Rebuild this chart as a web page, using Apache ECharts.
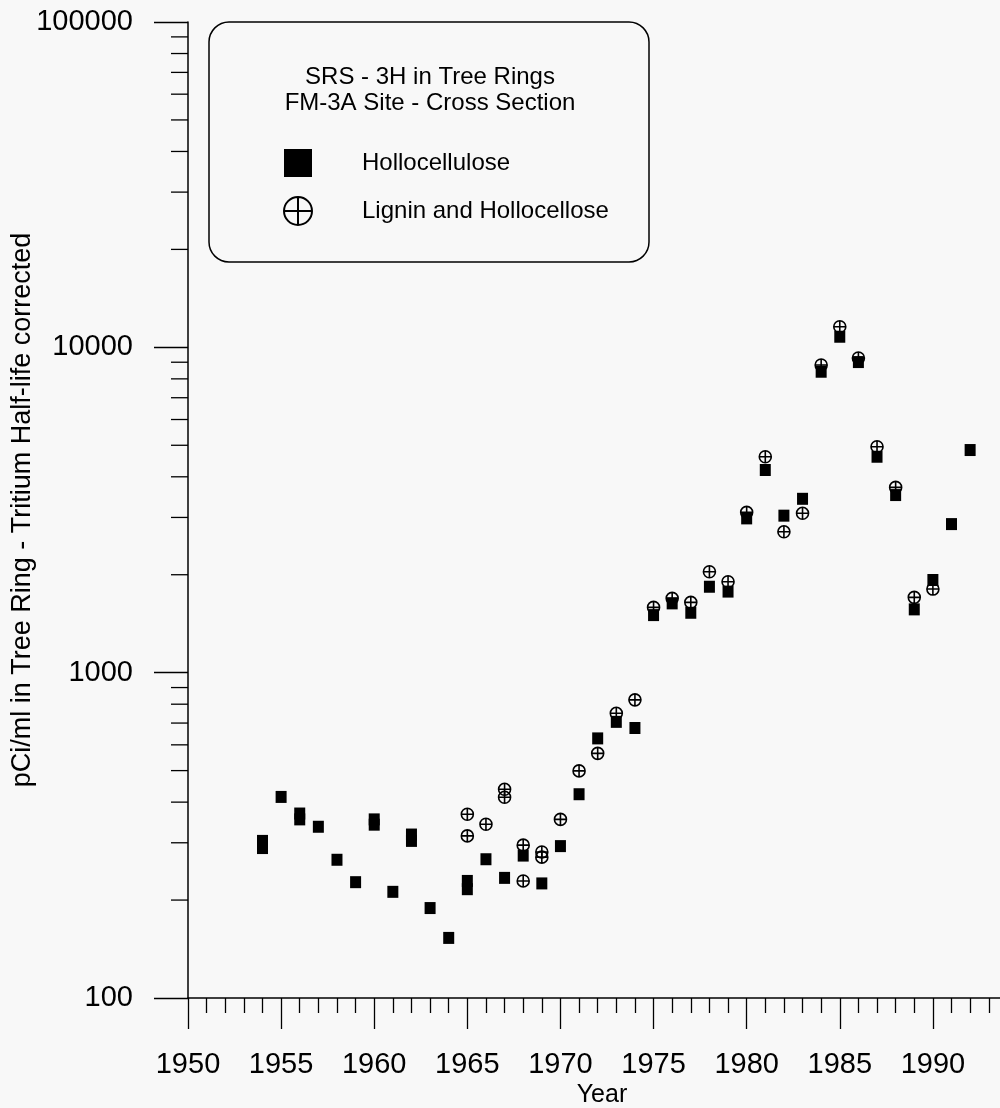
<!DOCTYPE html>
<html>
<head>
<meta charset="utf-8">
<script src="https://cdn.jsdelivr.net/npm/echarts@6/dist/echarts.min.js"></script>
<style>
  html, body { margin: 0; padding: 0; background: #f8f8f8; }
  #main { width: 1000px; height: 1108px; }
</style>
</head>
<body>
<div id="main"></div>
<script>
var FONT = '"Liberation Sans", Arial, Helvetica, sans-serif';

// Hollocellulose (filled squares)
var holloYears = [1954, 1954, 1955, 1956, 1956, 1957, 1958, 1959, 1960, 1960,
    1961, 1962, 1962, 1963, 1964, 1965, 1965, 1966, 1967, 1968,
    1969, 1970, 1971, 1972, 1973, 1974, 1975, 1976, 1977, 1978,
    1979, 1980, 1981, 1982, 1983, 1984, 1985, 1986, 1987, 1988,
    1989, 1990, 1991, 1992];
var holloValues = [304, 289, 415, 369, 354, 336, 266, 227, 354, 341,
    212, 318, 304, 189, 153, 229, 216, 267, 234, 274,
    225, 293, 423, 628, 706, 676, 1503, 1633, 1528, 1837,
    1775, 2980, 4197, 3038, 3423, 8414, 10779, 9010, 4610, 3515,
    1565, 1927, 2862, 4834];

// Lignin and Hollocellose (crossed circles)
var ligninYears = [1965, 1965, 1966, 1967, 1967, 1968, 1968, 1969, 1969, 1970,
    1971, 1972, 1973, 1974, 1975, 1976, 1977, 1978, 1979, 1980,
    1981, 1982, 1983, 1984, 1985, 1986, 1987, 1988, 1989, 1990];
var ligninValues = [367, 315, 342, 438, 414, 295, 229, 281, 271, 354,
    499, 565, 750, 825, 1587, 1692, 1645, 2042, 1903, 3110,
    4610, 2710, 3089, 8822, 11570, 9270, 4948, 3711, 1704, 1807];

// minor ticks of the log axis (2..9 per decade)
var yMinorTicks = [200, 300, 400, 500, 600, 700, 800, 900,
    2000, 3000, 4000, 5000, 6000, 7000, 8000, 9000,
    20000, 30000, 40000, 50000, 60000, 70000, 80000, 90000];

var seriesNames = ['Hollocellulose', 'Lignin and Hollocellose'];
var headingLines = ['SRS - 3H in Tree Rings', 'FM-3A Site - Cross Section'];

function zip(xs, ys) {
    return xs.map(function (x, i) { return [x, ys[i]]; });
}

var crossCircle = 'path://M10,0A10,10,0,1,1,-10,0A10,10,0,1,1,10,0ZM-10,0L10,0M0,-10L0,10';

var myChart = echarts.init(document.getElementById('main'));

var option = {
    backgroundColor: '#f8f8f8',
    animation: false,
    textStyle: { fontFamily: FONT, color: '#000' },
    grid: {
        left: 188,
        top: 22,
        width: 838,
        height: 976,
        containLabel: false,
        outerBoundsMode: 'none'
    },
    xAxis: {
        type: 'value',
        min: 1950,
        max: 1995,
        interval: 5,
        name: 'Year',
        nameLocation: 'middle',
        nameGap: 85,
        nameMoveOverlap: false,
        nameTextStyle: { fontSize: 25, color: '#000', fontFamily: FONT, padding: [0, 10, 0, 0] },
        axisLine: { show: true, onZero: false, lineStyle: { color: '#000', width: 1.5 } },
        axisTick: { show: true, length: 31, lineStyle: { color: '#000', width: 1.3 } },
        minorTick: { show: true, splitNumber: 5, length: 15, lineStyle: { color: '#000', width: 1.3 } },
        splitLine: { show: false },
        axisLabel: {
            fontSize: 29, color: '#000', fontFamily: FONT, margin: 52,
            showMaxLabel: false,
            formatter: function (v) { return String(v); }
        }
    },
    yAxis: {
        type: 'log',
        logBase: 10,
        min: 100,
        max: 100000,
        name: 'pCi/ml in Tree Ring - Tritium Half-life corrected',
        nameLocation: 'middle',
        nameGap: 152,
        nameMoveOverlap: false,
        nameTextStyle: { fontSize: 27, color: '#000', fontFamily: FONT },
        axisLine: { show: true, lineStyle: { color: '#000', width: 1.5 } },
        axisTick: { show: true, length: 34, lineStyle: { color: '#000', width: 1.3 } },
        splitLine: { show: false },
        axisLabel: {
            fontSize: 29, color: '#000', fontFamily: FONT, margin: 55,
            formatter: function (v) { return String(Math.round(v)); }
        }
    },
    legend: {
        data: [
            { name: seriesNames[0], icon: 'rect' },
            { name: seriesNames[1], icon: crossCircle }
        ],
        orient: 'vertical',
        left: 278,
        top: 144,
        itemWidth: 28,
        itemHeight: 28,
        itemGap: 19,
        selectedMode: false,
        textStyle: { fontSize: 24, color: '#000', fontFamily: FONT, padding: [0, 0, 0, 45] }
    },
    graphic: [
        {
            type: 'rect',
            shape: { x: 209, y: 22, width: 440, height: 240, r: 20 },
            style: { fill: 'none', stroke: '#000', lineWidth: 1.5 },
            z: 10
        },
        {
            type: 'text',
            x: 430, y: 77,
            style: { text: headingLines[0], font: '24px ' + FONT, fill: '#000', textAlign: 'center', textVerticalAlign: 'middle' },
            z: 10
        },
        {
            type: 'text',
            x: 430, y: 103,
            style: { text: headingLines[1], font: '24px ' + FONT, fill: '#000', textAlign: 'center', textVerticalAlign: 'middle' },
            z: 10
        }
    ],
    series: [
        {
            name: seriesNames[0],
            type: 'scatter',
            symbol: 'rect',
            symbolSize: [11, 12],
            itemStyle: { color: '#000', opacity: 1 },
            data: zip(holloYears, holloValues),
            z: 3
        },
        {
            name: seriesNames[1],
            type: 'scatter',
            symbol: crossCircle,
            symbolSize: 12,
            itemStyle: { color: 'rgba(0,0,0,0)', borderColor: '#000', borderWidth: 1.6, opacity: 1 },
            data: zip(ligninYears, ligninValues),
            z: 4
        },
        {
            name: 'yMinorTicks',
            type: 'custom',
            coordinateSystem: 'cartesian2d',
            silent: true,
            clip: false,
            data: yMinorTicks.map(function (v) { return [1950, v]; }),
            renderItem: function (params, api) {
                var p = api.coord([api.value(0), api.value(1)]);
                return {
                    type: 'line',
                    shape: { x1: p[0] - 17, y1: p[1], x2: p[0], y2: p[1] },
                    style: { stroke: '#000', lineWidth: 1.3 }
                };
            },
            z: 2
        }
    ]
};

myChart.setOption(option);
</script>
</body>
</html>
